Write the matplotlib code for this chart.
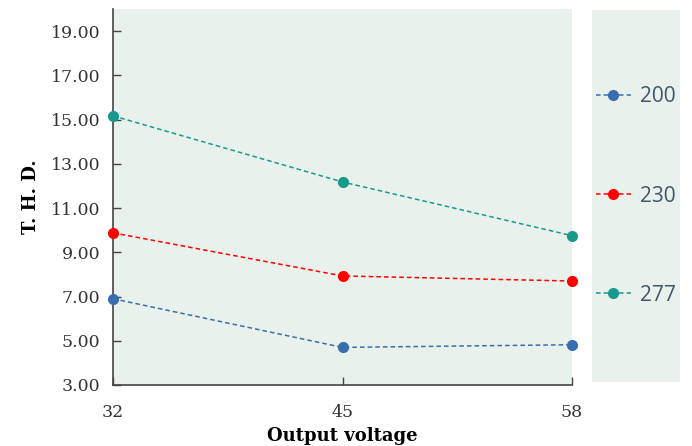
import matplotlib.pyplot as plt
import numpy as np

voltages = [32, 45, 58]
thd_200 = [6.90, 4.70, 4.82]
thd_230 = [9.88, 7.93, 7.70]
thd_277 = [15.17, 12.18, 9.75]
labels = ['200', '230', '277']
colors = ['#3a6db0', '#ff0000', '#179a8c']
yticks = np.arange(3, 20, 2)

bg = '#e9f1ed'
serif = 'DejaVu Serif'

fig = plt.figure(figsize=(6.92, 4.46), dpi=100)
ax = fig.add_axes([0.1633, 0.1368, 0.6633, 0.8430])
ax.set_facecolor(bg)

handles = []
for ys, lab, c in zip([thd_200, thd_230, thd_277], labels, colors):
    h, = ax.plot(voltages, ys, linestyle='--', dashes=(3, 2), color=c, linewidth=1.1,
                 marker='o', markersize=7, markerfacecolor=c, markeredgecolor=c,
                 label=lab, clip_on=False, zorder=3)
    handles.append(h)

ax.set_xlim(32, 58)
ax.set_ylim(3, 20)
ax.set_xticks(voltages)
ax.set_yticks(yticks)
ax.set_yticklabels(['{:.2f}'.format(v) for v in yticks], family=serif, fontsize=12.5, color='#333333')
ax.set_xticklabels([str(v) for v in voltages], family=serif, fontsize=12.5, color='#333333')
ax.tick_params(axis='y', direction='in', length=6, width=1, color='#444444', pad=9)
ax.tick_params(axis='x', direction='in', length=6, width=1, color='#444444', pad=14)
for s in ['top', 'right']:
    ax.spines[s].set_visible(False)
for s in ['left', 'bottom']:
    ax.spines[s].set_color('#444444')
    ax.spines[s].set_linewidth(1.2)

ax.set_xlabel('Output voltage', family=serif, fontweight='bold', fontsize=13, labelpad=4)
ax.set_ylabel('T. H. D.', family=serif, fontweight='bold', fontsize=13, labelpad=8)

# legend box
lax = fig.add_axes([592 / 692, 1 - 382 / 446, 88 / 692, 372 / 446])
lax.set_facecolor(bg)
lax.set_xticks([])
lax.set_yticks([])
for s in lax.spines.values():
    s.set_visible(False)
leg = lax.legend(handles=handles, loc='center', frameon=False, labelspacing=3.75,
                 handlelength=1.7, handletextpad=0.45, borderpad=0, borderaxespad=0,
                 prop={'family': 'Open Sans', 'size': 15})
for t in leg.get_texts():
    t.set_color('#44546a')

fig.savefig('out.png', dpi=100)
